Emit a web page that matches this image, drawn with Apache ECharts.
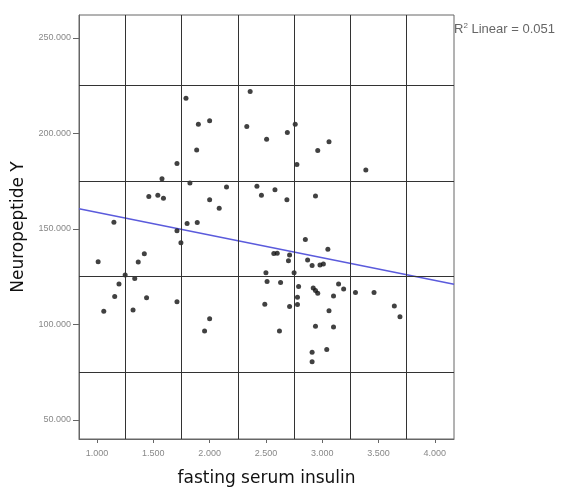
<!DOCTYPE html>
<html>
<head>
<meta charset="utf-8">
<script src="https://cdn.jsdelivr.net/npm/echarts@6/dist/echarts.min.js"></script>
<style>html,body{margin:0;padding:0;background:#fff;}#c{width:569px;height:489px;}</style>
</head>
<body>
<div id="c"></div>
<script>
// fasting serum insulin (x) and Neuropeptide Y (y)
const insulin = [1.79,1.90,2.00,1.885,1.71,1.577,1.825,2.15,1.46,1.54,1.59,2.00,2.085,1.15,1.80,1.89,1.71,1.745,
  2.36,2.33,2.506,2.69,2.76,2.775,2.42,2.46,2.58,2.686,3.06,2.96,3.387,2.94,2.85,3.05,
  1.01,1.06,1.157,1.195,1.25,1.32,1.335,1.366,1.42,1.44,1.71,1.955,2.00,
  2.50,2.51,2.63,2.49,2.62,2.57,2.60,2.71,2.70,2.71,2.75,2.79,2.78,2.78,2.87,2.91,2.98,3.01,
  2.92,2.94,2.96,3.10,3.145,3.19,3.295,3.46,3.64,3.69,3.06,2.94,3.10,3.04,2.91,2.91];
const npy = [218.4,204.8,206.6,191.3,184.2,176.2,174.1,172.0,167.0,167.6,166.0,165.3,160.8,153.5,152.8,153.3,149.0,142.7,
  221.9,203.6,197.0,200.5,204.8,183.7,172.4,167.6,170.5,165.3,195.7,191.0,180.9,167.2,144.4,139.4,
  132.8,106.9,114.6,121.2,125.9,107.6,124.0,132.7,137.0,113.9,111.8,96.5,103.0,
  127.1,122.4,121.9,110.6,96.5,137.1,137.3,136.3,133.3,109.4,127.0,119.8,114.2,110.4,133.7,130.9,131.1,131.6,
  119.1,117.7,116.3,114.9,121.2,118.6,116.7,116.7,109.7,104.0,107.1,99.0,98.6,86.8,85.4,80.4];
const fitX = [0.84, 4.17];
const fitY = [160.5, 121.0];
const xTicks = [1.0, 1.5, 2.0, 2.5, 3.0, 3.5, 4.0];
const yTicks = [50, 100, 150, 200, 250];
const xGridLines = [1.25, 1.75, 2.25, 2.75, 3.25, 3.75];
const yGridLines = [75, 125, 175, 225];
const xRange = [0.84, 4.17];
const yRange = [40, 262];
const r2Text = 'R{s|2} Linear = 0.051';

const points = insulin.map((x, i) => [x, npy[i]]);
const fitLine = fitX.map((x, i) => [x, fitY[i]]);
const gridMarks = xGridLines.map(v => ({xAxis: v})).concat(yGridLines.map(v => ({yAxis: v})));

const chart = echarts.init(document.getElementById('c'), null, {renderer: 'canvas'});
chart.setOption({
  animation: false,
  backgroundColor: '#fff',
  title: {
    text: r2Text, left: 449, top: 17,
    textStyle: {
      fontFamily: 'Liberation Sans', fontSize: 13, fontWeight: 'normal', color: '#666',
      rich: { s: { fontSize: 8, verticalAlign: 'top', color: '#666', fontFamily: 'Liberation Sans', padding: [0,0,7,0] } }
    }
  },
  grid: { left: 79, right: 115, top: 15, bottom: 50, outerBoundsMode: 'none', containLabel: false,
    show: true, borderColor: '#666', borderWidth: 1, backgroundColor: 'transparent' },
  xAxis: {
    type: 'value', min: xRange[0], max: xRange[1],
    name: 'fasting serum insulin', nameLocation: 'middle', nameGap: 31,
    nameTextStyle: { fontFamily: 'DejaVu Sans', fontSize: 17, color: '#111' },
    axisLine: { show: true, lineStyle: { color: '#666', width: 1 } },
    axisTick: { show: true, length: 4, customValues: xTicks, lineStyle: { color: '#666' } },
    axisLabel: { customValues: xTicks, formatter: v => v.toFixed(3), fontFamily: 'Liberation Sans', fontSize: 9, color: '#888', margin: 10 },
    splitLine: { show: false }
  },
  yAxis: {
    type: 'value', min: yRange[0], max: yRange[1],
    name: 'Neuropeptide Y', nameLocation: 'middle', nameGap: 50, nameRotate: 90,
    nameTextStyle: { fontFamily: 'DejaVu Sans', fontSize: 17, color: '#111' },
    axisLine: { show: true, lineStyle: { color: '#666', width: 1 } },
    axisTick: { show: true, length: 6, customValues: yTicks, lineStyle: { color: '#666' } },
    axisLabel: { customValues: yTicks, formatter: v => v.toFixed(3), fontFamily: 'Liberation Sans', fontSize: 9, color: '#888', margin: 8 },
    splitLine: { show: false }
  },
  series: [
    {
      type: 'scatter', data: [], silent: true, z: 1,
      markLine: { silent: true, symbol: ['none', 'none'], label: { show: false },
        lineStyle: { color: '#333', width: 1, type: 'solid' }, data: gridMarks, animation: false }
    },
    {
      type: 'line', data: fitLine, showSymbol: false, symbol: 'none', z: 3,
      lineStyle: { color: '#5b5bdc', width: 1.5 }
    },
    {
      type: 'scatter', data: points, symbol: 'circle', symbolSize: 5, z: 4,
      itemStyle: { color: '#111' }
    }
  ]
});
</script>
</body>
</html>
